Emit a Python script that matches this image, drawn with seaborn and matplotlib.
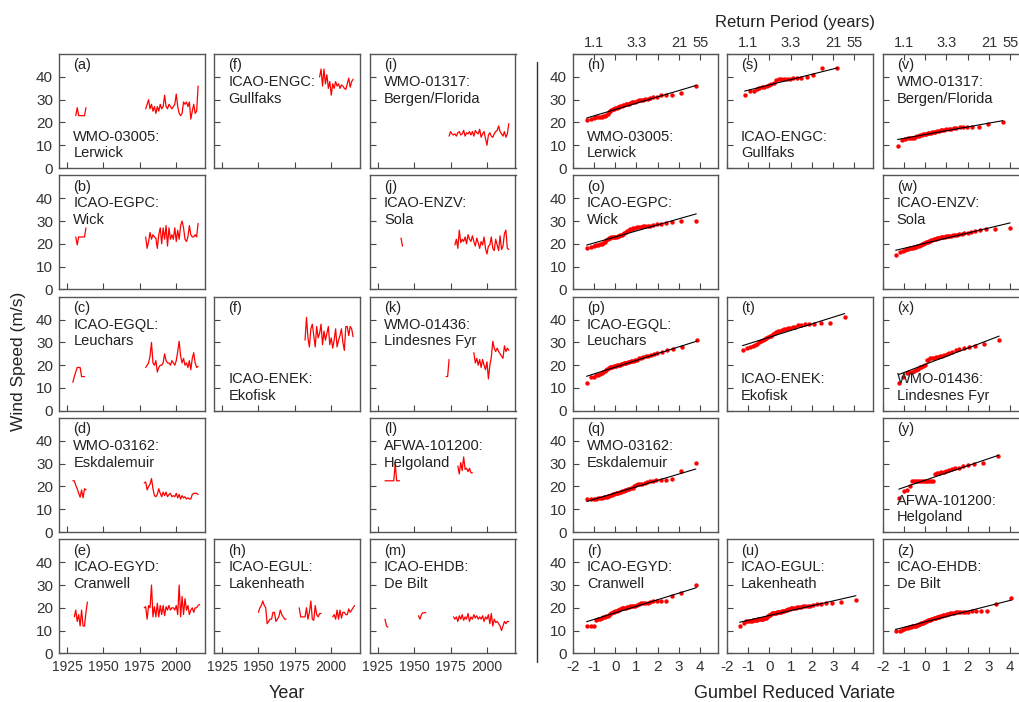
import numpy as np
import pandas as pd
import matplotlib
matplotlib.use("Agg")
import matplotlib.pyplot as plt
from matplotlib.lines import Line2D
import seaborn as sns

# ==============================
# Annual maximum wind speed (m/s): time series segments (start year + values)
# and sorted samples used for the Gumbel plots
# ==============================
lerwick_start = [1931, 1979]
lerwick_ws = [
    [23, 26.5, 23, 23, 23, 23, 23, 26.5],
    [26, 28, 30, 26, 28, 25, 27, 24, 27, 25, 28, 26, 27, 32, 27, 26, 28, 27, 26, 27,
     28, 32.5, 27, 24, 23, 24, 29, 28, 29, 27, 29, 21.5, 25, 28, 24, 25, 36],
]
lerwick_amax = [21, 21.5, 22, 22.5, 22.5, 22.5, 22.5, 22.8, 23, 23.2, 23.8, 24.5, 25, 25.5, 25.8,
                26, 26.2, 26.5, 26.8, 27, 27.2, 27.4, 27.6, 27.8, 28, 28.2, 28.3, 28.5, 28.8, 29,
                29.2, 29.5, 29.8, 30, 30, 30.2, 30.5, 30.8, 31, 31, 32, 32, 32.3, 33, 36]

gullfaks_start = [1992]
gullfaks_ws = [[40, 43.5, 36, 43.5, 37, 41, 35, 38, 32, 37, 35, 38, 36, 37, 35, 36.5, 36, 35,
                34.5, 37, 39.5, 35.5, 38, 39]]
gullfaks_amax = [32, 34, 34, 34.5, 35, 35.5, 35.5, 36, 36.5, 37, 37.5, 38.5, 39, 39, 39, 39.2,
                 39.3, 39.5, 39.5, 39.6, 39.8, 41, 44, 44]

bergen_start = [1974]
bergen_ws = [[14, 16, 15, 14.5, 15, 14, 15.5, 16, 14.5, 15, 16.5, 14, 15.5, 15, 16, 14.5, 16, 14,
              16.5, 15.5, 15, 17, 13.5, 15, 16, 13, 10, 14.5, 15.5, 14, 13.5, 15, 16, 16.5, 18.5,
              16, 15, 14, 16, 13.5, 15, 19.5]]
bergen_amax = [9.8, 12.5, 12.8, 13, 13, 13.2, 13.3, 13.5, 14, 14.2, 14.4, 14.6, 14.8, 15, 15, 15.2,
               15.4, 15.6, 15.8, 16, 16, 16.2, 16.3, 16.5, 16.6, 16.8, 17, 17.2, 17.3, 17.5, 17.6,
               17.8, 18, 18, 18, 18.2, 19.3, 20]

wick_start = [1931, 1979]
wick_ws = [
    [23, 19.5, 23, 23, 23, 23, 23, 27],
    [23, 18, 21, 25, 22, 24, 23, 22.5, 18, 24, 27, 20, 27, 22, 28, 19, 27, 22, 24, 22,
     27, 21, 26, 22, 28, 30, 27, 22, 21, 23, 28, 24, 23, 23, 24, 23, 29],
]
wick_amax = [18, 18.5, 19, 19.5, 19.5, 20, 20, 20.5, 21, 21.5, 22, 22.5, 22.5, 22.8, 23, 23, 23,
             23.2, 23.5, 23.5, 23.8, 24, 24.3, 24.6, 25, 25.5, 26, 26.3, 26.6, 27, 27, 27.2, 27.4,
             27.5, 27.6, 27.8, 28, 28, 28.2, 28.5, 28.8, 29, 29.5, 30, 30]

sola_start = [1941, 1978]
sola_ws = [
    [22.5, 19],
    [19.5, 22, 18, 26, 20.5, 22, 21, 23, 20, 24, 22, 21, 23.5, 21, 19, 22.5, 20.5, 18, 21, 19.5,
     23, 18, 15.5, 19, 19.5, 23, 18, 17, 22, 19.5, 17, 23.5, 17.5, 19, 24.5, 26, 18, 17.5],
]
sola_amax = [15, 16.5, 17, 17.3, 17.5, 17.8, 18, 18, 18.2, 18.4, 18.6, 18.8, 19, 19.2, 19.4, 19.6,
             19.8, 20, 20.2, 20.4, 20.6, 20.8, 21, 21.2, 21.4, 21.6, 21.8, 22, 22, 22.2, 22.4, 22.5,
             22.6, 22.8, 23, 23, 23.2, 23.3, 23.4, 23.5, 23.6, 23.8, 24, 24, 24.2, 24.4, 24.6, 24.8,
             25, 25.5, 26, 26.5, 26.5, 27]

leuchars_start = [1929, 1979]
leuchars_ws = [
    [12.5, 15, 17, 19, 19, 19, 15, 15, 15],
    [19, 20, 21, 24, 30, 21, 20, 22, 17, 19, 20, 20, 21, 25, 22, 21, 21, 20, 22, 21,
     20, 22, 26, 30.5, 24, 21, 23, 20, 21, 19, 22, 18, 23, 25.5, 21, 19, 19.5],
]
leuchars_amax = [12, 15, 15, 15.5, 15.5, 16, 16.5, 17, 17.5, 18, 18.3, 18.6, 19, 19, 19.2, 19.5,
                 19.6, 19.8, 20, 20, 20.2, 20.5, 20.5, 20.8, 21, 21, 21.2, 21.5, 21.8, 22, 22, 22.2,
                 22.5, 23, 23, 23.5, 24, 24, 24.5, 25, 25.5, 26, 26.5, 27, 28, 31]

ekofisk_start = [1982]
ekofisk_ws = [[31, 41, 32, 28, 36, 38, 33, 28, 37, 32, 34, 38, 29, 35, 31, 34, 37, 29, 32, 27.5,
               31, 36, 28, 31, 33, 36, 30, 26.5, 37, 37, 33, 37, 36, 32.5]]
ekofisk_amax = [26.5, 27.5, 28, 28.5, 29, 29.5, 30, 30.5, 31, 31.5, 32, 32.5, 33, 33, 33.5, 34,
                34.5, 35, 35, 35.5, 36, 36, 36.5, 36.5, 37, 37, 37.5, 37.5, 38, 38, 38, 38.5, 38.5, 41]

lindesnes_start = [1972, 1991]
lindesnes_ws = [
    [15, 15, 22.5],
    [25.5, 21, 23, 20, 22.5, 19, 22.5, 20, 18, 21.5, 14, 20, 23.5, 30.5, 27.5, 26, 27.5, 26, 25,
     24, 23, 28.5, 26, 27.5, 26.5],
]
lindesnes_amax = [12, 15, 16.5, 17, 17, 17.5, 18, 18.5, 19, 19, 19.5, 20, 22.5, 22.5, 23, 23, 23,
                  23.5, 23.5, 24, 24, 24.5, 25, 25.5, 26, 26.5, 27, 27.5, 28, 28.5, 29.5, 31]

eskdalemuir_start = [1929, 1978]
eskdalemuir_ws = [
    [22.5, 22.5, 20.5, 19, 17, 15.3, 18.5, 15, 19, 18.5],
    [21.5, 22, 18.5, 20, 21, 23.5, 19, 16, 15.5, 16.5, 19, 17, 15.5, 17.5, 16, 17.5, 15.5, 16.5,
     17, 15.5, 16, 15.5, 17, 15, 16.5, 14.5, 16, 15, 15.5, 14.5, 15, 14.5, 14.5, 16.5, 17, 17, 17, 16.5],
]
eskdalemuir_amax = [14.3, 14.5, 14.5, 14.6, 14.8, 15, 15, 15.2, 15.4, 15.6, 15.8, 16, 16.2, 16.4,
                    16.6, 16.8, 17, 17, 17.2, 17.4, 17.6, 17.8, 18, 18.3, 18.6, 18.9, 19, 19.2, 19.5,
                    20, 20.5, 21, 21, 21.3, 21.6, 22, 22.3, 22.5, 22.8, 22.8, 23, 23.5, 27, 30.5]

helgoland_start = [1930, 1980]
helgoland_ws = [
    [22.5, 22.5, 22.5, 22.5, 22.5, 22.5, 22.5, 30, 22.5, 22.5, 22.5],
    [29, 25.5, 30.5, 27, 33, 27.5, 28, 26.5, 28, 26, 26],
]
helgoland_amax = [15, 18, 18.3, 20, 22.5, 22.5, 22.5, 22.5, 22.5, 22.5, 22.5, 22.5, 22.5, 22.5,
                  22.5, 22.5, 25.7, 26, 26, 26.3, 26.5, 27, 27.3, 27.8, 28, 28.3, 29, 29.5, 30,
                  30.5, 33.5]

cranwell_start = [1930, 1978]
cranwell_ws = [
    [16, 19, 14, 17, 12, 19, 12, 12, 18, 22.5],
    [20, 20.5, 15, 21, 20, 30, 16, 20.5, 16, 22, 16, 21, 17, 21, 16.5, 20.5, 19, 21, 19, 20,
     20, 19, 21, 17, 30, 16, 25, 17, 24, 19, 21, 17, 19, 20, 18, 20, 20, 21, 21.5],
]
cranwell_amax = [12, 12, 12, 14.5, 15, 15.2, 15.5, 15.8, 16, 16.3, 16.6, 17, 17.3, 17.6, 18, 18.2,
                 18.5, 18.8, 19, 19.2, 19.5, 19.8, 20, 20, 20, 20.2, 20.4, 20.6, 20.8, 21, 21, 21.3,
                 21.6, 22, 22, 22, 22.2, 22.5, 22.8, 23, 23, 23.2, 25, 26.5, 30]

lakenheath_start = [1950, 1978, 2001]
lakenheath_ws = [
    [18, 20, 21, 23, 21, 20, 13, 14, 15, 15, 18, 18, 14, 15, 16, 19, 17, 16, 15, 15],
    [20, 16, 16, 16, 16, 20, 15, 18, 23, 15, 14.5, 21, 17, 16, 17.5, 17.5],
    [16, 17, 15, 19, 15, 19, 15.5, 18, 18, 17, 17, 19.5, 18, 19, 20, 21],
]
lakenheath_amax = [12, 13.5, 14, 14, 14.2, 14.3, 14.5, 14.5, 14.6, 14.8, 15, 15, 15, 15.1, 15.2,
                   15.4, 15.5, 15.7, 16, 16.3, 16.7, 17, 17.2, 17.5, 17.6, 17.7, 17.8, 17.9, 18, 18,
                   18.1, 18.2, 18.3, 18.5, 18.6, 18.8, 19, 19.2, 19.5, 19.6, 19.8, 20, 20, 20.1,
                   20.2, 20.3, 20.5, 20.6, 20.8, 21, 21, 21.2, 21.5, 21.5, 22, 22.2, 22.5, 23.5]

debilt_start = [1930, 1953, 1977]
debilt_ws = [
    [15, 12, 11.5],
    [16.5, 15, 17, 17.8, 17.8, 18],
    [16, 15, 16, 14, 16.5, 15, 17, 14.5, 16, 15, 17.5, 14, 16, 15, 17, 15.5, 16.5, 15, 16, 15,
     16.5, 14, 16, 15, 17, 13, 17.5, 12, 15, 13.5, 14, 13, 12, 10, 12, 14, 13, 14, 14],
]
debilt_amax = [10, 10, 10.3, 10.6, 11, 11.3, 11.5, 11.7, 11.8, 12, 12, 12.2, 12.4, 12.5, 12.7, 12.9,
               13.1, 13.3, 13.5, 13.7, 13.9, 14.1, 14.3, 14.5, 14.6, 14.8, 15, 15.1, 15.3, 15.5,
               15.6, 15.8, 16, 16.1, 16.3, 16.5, 16.7, 16.9, 17, 17.2, 17.4, 17.5, 17.7, 17.8, 18,
               18, 18.1, 18.2, 18.2, 18.3, 18.4, 18.5, 18.5, 18.6, 21.5, 24.5]

# row, col, ts letter, gumbel letter, code, name, starts, segments, sample, ts text, gumbel text
stations = [
    (0, 0, "a", "n", "WMO-03005", "Lerwick", lerwick_start, lerwick_ws, lerwick_amax, "bottom", "bottom"),
    (0, 1, "f", "s", "ICAO-ENGC", "Gullfaks", gullfaks_start, gullfaks_ws, gullfaks_amax, "top", "bottom"),
    (0, 2, "i", "v", "WMO-01317", "Bergen/Florida", bergen_start, bergen_ws, bergen_amax, "top", "top"),
    (1, 0, "b", "o", "ICAO-EGPC", "Wick", wick_start, wick_ws, wick_amax, "top", "top"),
    (1, 2, "j", "w", "ICAO-ENZV", "Sola", sola_start, sola_ws, sola_amax, "top", "top"),
    (2, 0, "c", "p", "ICAO-EGQL", "Leuchars", leuchars_start, leuchars_ws, leuchars_amax, "top", "top"),
    (2, 1, "f", "t", "ICAO-ENEK", "Ekofisk", ekofisk_start, ekofisk_ws, ekofisk_amax, "bottom", "bottom"),
    (2, 2, "k", "x", "WMO-01436", "Lindesnes Fyr", lindesnes_start, lindesnes_ws, lindesnes_amax, "top", "bottom"),
    (3, 0, "d", "q", "WMO-03162", "Eskdalemuir", eskdalemuir_start, eskdalemuir_ws, eskdalemuir_amax, "top", "top"),
    (3, 2, "l", "y", "AFWA-101200", "Helgoland", helgoland_start, helgoland_ws, helgoland_amax, "top", "bottom"),
    (4, 0, "e", "r", "ICAO-EGYD", "Cranwell", cranwell_start, cranwell_ws, cranwell_amax, "top", "top"),
    (4, 1, "h", "u", "ICAO-EGUL", "Lakenheath", lakenheath_start, lakenheath_ws, lakenheath_amax, "top", "top"),
    (4, 2, "m", "z", "ICAO-EHDB", "De Bilt", debilt_start, debilt_ws, debilt_amax, "top", "top"),
]

year_ticks = [1925, 1950, 1975, 2000]
gumbel_ticks = [-2, -1, 0, 1, 2, 3, 4]
period_ticks = [-1, 0, 1, 2, 3, 4]
period_labels = ["1.1", "", "3.3", "", "21", "55"]

# ==============================
# Layout
# ==============================
sns.set_style("ticks")
plt.rcParams["font.family"] = ["Liberation Sans", "DejaVu Sans"]
plt.rcParams["axes.unicode_minus"] = False

W, H = 1020, 702
fig = plt.figure(figsize=(W / 100, H / 100), dpi=100)

left_x = [59.3, 214.3, 370]
right_x = [572.7, 727, 882.7]
row_y = [54, 175.3, 296.7, 418, 539.3]
PW, PH = 145.5, 114

SPINE = "#555555"
TXT = "#222222"


def make_ax(x, y):
    return fig.add_axes([x / W, 1 - (y + PH) / H, PW / W, PH / H])


def style(ax, row, col, xlim, xticks, xsize):
    ax.set_xlim(xlim)
    ax.set_ylim(0, 50.1)
    ax.set_xticks(xticks)
    ax.set_yticks([0, 10, 20, 30, 40])
    ax.set_xlabel("")
    ax.set_ylabel("")
    ax.tick_params(direction="in", length=4, width=0.8, color="#444444", labelcolor="#333333")
    ax.tick_params(axis="x", pad=5, labelsize=xsize)
    ax.tick_params(axis="y", pad=4.5, labelsize=11)
    ax.tick_params(labelleft=(col == 0), labelbottom=(row == 4))
    for sp in ax.spines.values():
        sp.set_color(SPINE)
        sp.set_linewidth(1)


def add_text(ax, letter, code, name, where):
    kw = dict(transform=ax.transAxes, ha="left", fontsize=10.5, color=TXT, linespacing=1.25)
    if where == "top":
        ax.text(0.097, 0.963, f"({letter})\n{code}:\n{name}", va="top", **kw)
    else:
        ax.text(0.097, 0.963, f"({letter})", va="top", **kw)
        ax.text(0.097, 0.067, f"{code}:\n{name}", va="bottom", **kw)


for row, col, lt, lg, code, name, starts, segs, sample, pos_ts, pos_g in stations:
    # ---- time series ----
    recs = []
    for k, (s, seg) in enumerate(zip(starts, segs)):
        for j, v in enumerate(seg):
            recs.append((s + j, v, k))
    df = pd.DataFrame(recs, columns=["year", "ws", "seg"])

    ax = make_ax(left_x[col], row_y[row])
    sns.lineplot(data=df, x="year", y="ws", units="seg", estimator=None,
                 color="#ff0000", lw=0.9, ax=ax)
    style(ax, row, col, (1919.7, 2019.6), year_ticks, 10)
    add_text(ax, lt, code, name, pos_ts)

    # ---- Gumbel plot (Weibull plotting positions, moment fit) ----
    vals = np.sort(np.array(sample, dtype=float))
    n = len(vals)
    rank = np.arange(1, n + 1)
    gx = -np.log(-np.log(rank / (n + 1)))
    scale = np.sqrt(6) * vals.std(ddof=1) / np.pi
    loc = vals.mean() - 0.5772 * scale

    axg = make_ax(right_x[col], row_y[row])
    sns.scatterplot(x=gx, y=vals, color="#ff0000", s=10, linewidth=0, ax=axg, zorder=2)
    fit_x = np.array([gx[0], gx[-1]])
    sns.lineplot(x=fit_x, y=loc + scale * fit_x, color="black", lw=0.8, ax=axg, zorder=3)
    style(axg, row, col, (-2, 4.85), gumbel_ticks, 11)
    add_text(axg, lg, code, name, pos_g)

    if row == 0:
        sec = axg.secondary_xaxis("top")
        sec.set_xticks(period_ticks, labels=period_labels)
        sec.tick_params(direction="in", length=4, width=0.8, color="#444444",
                        labelcolor="#333333", labelsize=10.5, pad=3)
        sec.spines["top"].set_color(SPINE)

# ==============================
# Figure labels
# ==============================
fig.text(19 / W, 1 - 361 / H, "Wind Speed (m/s)", rotation=90, ha="center", va="center",
         fontsize=12.5, color=TXT)
fig.text(286.5 / W, 1 - 698 / H, "Year", ha="center", va="baseline", fontsize=13, color=TXT)
fig.text(795 / W, 1 - 698 / H, "Gumbel Reduced Variate", ha="center", va="baseline",
         fontsize=13, color=TXT)
fig.text(795 / W, 1 - 26.5 / H, "Return Period (years)", ha="center", va="baseline",
         fontsize=12, color=TXT)
fig.add_artist(Line2D([536.5 / W, 536.5 / W], [1 - 62 / H, 1 - 662 / H], color="#333333", lw=1))

fig.savefig("out.png", dpi=100)
